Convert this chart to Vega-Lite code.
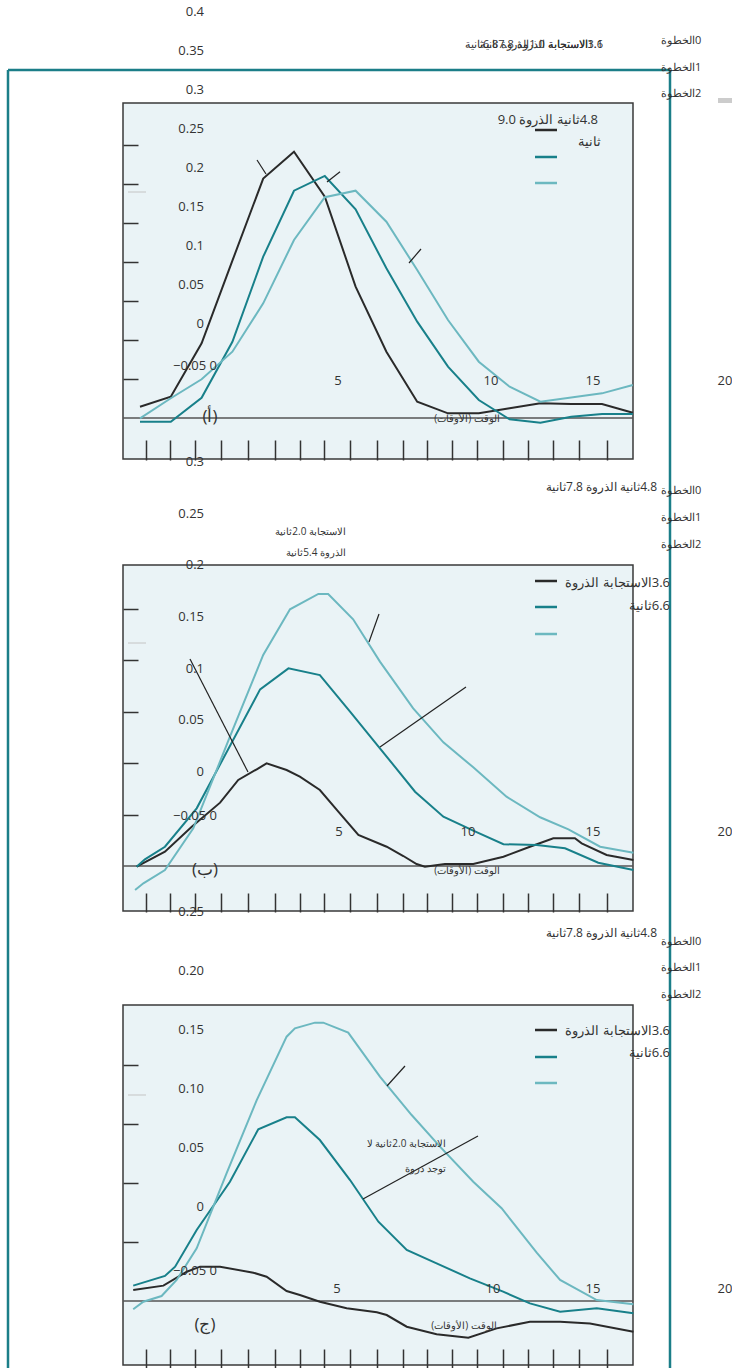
{
  "$schema": "https://vega.github.io/schema/vega-lite/v6.json",
  "padding": 0,
  "spacing": 0,
  "bounds": "flush",
  "background": "white",
  "config": {"view": {"stroke": null}, "text": {"font": "Open Sans", "color": "#333333"}, "axis": {"grid": false, "labels": false, "domain": false, "tickColor": "#333333", "tickWidth": 1.5, "zindex": 2}},
  "datasets": {
    "L1": [
      {"s":"step0","t":0,"v":0.0145},{"s":"step0","t":1,"v":0.0273},{"s":"step0","t":2,"v":0.0957},{"s":"step0","t":3,"v":0.2017},{"s":"step0","t":4,"v":0.307},{"s":"step0","t":5,"v":0.3415},{"s":"step0","t":6,"v":0.2838},{"s":"step0","t":7,"v":0.1684},{"s":"step0","t":8,"v":0.085},{"s":"step0","t":9,"v":0.0209},{"s":"step0","t":10,"v":0.006},{"s":"step0","t":11,"v":0.006},{"s":"step0","t":12,"v":0.0124},{"s":"step0","t":13,"v":0.0188},{"s":"step0","t":14,"v":0.018},{"s":"step0","t":15,"v":0.018},{"s":"step0","t":16,"v":0.0068},
      {"s":"step1","t":0,"v":-0.0047},{"s":"step1","t":1,"v":-0.0047},{"s":"step1","t":2,"v":0.026},{"s":"step1","t":3,"v":0.0978},{"s":"step1","t":4,"v":0.2068},{"s":"step1","t":5,"v":0.2914},{"s":"step1","t":6,"v":0.3103},{"s":"step1","t":7,"v":0.2676},{"s":"step1","t":8,"v":0.1919},{"s":"step1","t":9,"v":0.1235},{"s":"step1","t":10,"v":0.0658},{"s":"step1","t":11,"v":0.0231},{"s":"step1","t":12,"v":-0.0017},{"s":"step1","t":13,"v":-0.006},{"s":"step1","t":14,"v":0.0017},{"s":"step1","t":15,"v":0.0051},{"s":"step1","t":16,"v":0.0051},
      {"s":"step2","t":0,"v":-0.0004},{"s":"step2","t":1,"v":0.0253},{"s":"step2","t":2,"v":0.0496},{"s":"step2","t":3,"v":0.085},{"s":"step2","t":4,"v":0.147},{"s":"step2","t":5,"v":0.2282},{"s":"step2","t":6,"v":0.283},{"s":"step2","t":7,"v":0.2914},{"s":"step2","t":8,"v":0.2517},{"s":"step2","t":9,"v":0.1897},{"s":"step2","t":10,"v":0.1256},{"s":"step2","t":11,"v":0.0722},{"s":"step2","t":12,"v":0.0401},{"s":"step2","t":13,"v":0.0209},{"s":"step2","t":14,"v":0.0263},{"s":"step2","t":15,"v":0.0316},{"s":"step2","t":16,"v":0.0423}
    ],
    "L2": [
      {"s":"step0","t":-0.11,"v":-0.0007},{"s":"step0","t":0.81,"v":0.0139},{"s":"step0","t":1.68,"v":0.0382},{"s":"step0","t":2.6,"v":0.0615},{"s":"step0","t":3.19,"v":0.0835},{"s":"step0","t":3.79,"v":0.0939},{"s":"step0","t":4.11,"v":0.0997},{"s":"step0","t":4.76,"v":0.0932},{"s":"step0","t":5.19,"v":0.0867},{"s":"step0","t":5.84,"v":0.0738},{"s":"step0","t":6.39,"v":0.0544},{"s":"step0","t":7.09,"v":0.0301},{"s":"step0","t":8.01,"v":0.0187},{"s":"step0","t":8.55,"v":0.0097},{"s":"step0","t":8.98,"v":0.0019},{"s":"step0","t":9.25,"v":-0.0007},{"s":"step0","t":9.9,"v":0.0019},{"s":"step0","t":10.82,"v":0.0019},{"s":"step0","t":11.8,"v":0.009},{"s":"step0","t":12.66,"v":0.0187},{"s":"step0","t":13.42,"v":0.0269},{"s":"step0","t":14.12,"v":0.0269},{"s":"step0","t":14.34,"v":0.022},{"s":"step0","t":15.15,"v":0.0107},{"s":"step0","t":16.02,"v":0.0058},
      {"s":"step1","t":-0.11,"v":-0.0007},{"s":"step1","t":0.16,"v":0.0065},{"s":"step1","t":0.81,"v":0.0187},{"s":"step1","t":1.84,"v":0.056},{"s":"step1","t":3.9,"v":0.1715},{"s":"step1","t":4.82,"v":0.1919},{"s":"step1","t":5.84,"v":0.1854},{"s":"step1","t":6.82,"v":0.1498},{"s":"step1","t":7.79,"v":0.1143},{"s":"step1","t":8.93,"v":0.0721},{"s":"step1","t":9.85,"v":0.0479},{"s":"step1","t":10.82,"v":0.0343},{"s":"step1","t":11.8,"v":0.0211},{"s":"step1","t":12.88,"v":0.0204},{"s":"step1","t":13.8,"v":0.0172},{"s":"step1","t":14.88,"v":0.0032},{"s":"step1","t":16.02,"v":-0.0039},
      {"s":"step2","t":-0.16,"v":-0.0233},{"s":"step2","t":0.11,"v":-0.0168},{"s":"step2","t":0.81,"v":-0.0039},{"s":"step2","t":1.73,"v":0.0366},{"s":"step2","t":2.92,"v":0.1255},{"s":"step2","t":4.0,"v":0.2049},{"s":"step2","t":4.87,"v":0.2492},{"s":"step2","t":5.79,"v":0.2641},{"s":"step2","t":6.11,"v":0.2641},{"s":"step2","t":6.92,"v":0.2395},{"s":"step2","t":7.79,"v":0.1984},{"s":"step2","t":8.87,"v":0.1531},{"s":"step2","t":9.85,"v":0.1201},{"s":"step2","t":10.82,"v":0.0958},{"s":"step2","t":11.9,"v":0.0673},{"s":"step2","t":12.99,"v":0.0473},{"s":"step2","t":13.91,"v":0.0356},{"s":"step2","t":14.94,"v":0.0187},{"s":"step2","t":16.02,"v":0.0129}
    ],
    "L3": [
      {"s":"step0","t":-0.22,"v":0.0093},{"s":"step0","t":0.76,"v":0.013},{"s":"step0","t":1.52,"v":0.0248},{"s":"step0","t":1.95,"v":0.0291},{"s":"step0","t":2.6,"v":0.0291},{"s":"step0","t":3.68,"v":0.024},{"s":"step0","t":4.11,"v":0.0206},{"s":"step0","t":4.76,"v":0.0085},{"s":"step0","t":5.19,"v":0.0051},{"s":"step0","t":5.84,"v":-0.0006},{"s":"step0","t":6.71,"v":-0.0062},{"s":"step0","t":7.69,"v":-0.0096},{"s":"step0","t":8.01,"v":-0.0119},{"s":"step0","t":8.66,"v":-0.0218},{"s":"step0","t":9.63,"v":-0.0282},{"s":"step0","t":10.66,"v":-0.0311},{"s":"step0","t":11.58,"v":-0.0232},{"s":"step0","t":12.66,"v":-0.0176},{"s":"step0","t":13.64,"v":-0.0176},{"s":"step0","t":14.61,"v":-0.019},{"s":"step0","t":16.02,"v":-0.026},
      {"s":"step1","t":-0.22,"v":0.013},{"s":"step1","t":0.81,"v":0.0212},{"s":"step1","t":1.14,"v":0.0291},{"s":"step1","t":1.84,"v":0.0602},{"s":"step1","t":2.92,"v":0.1011},{"s":"step1","t":3.84,"v":0.1455},{"s":"step1","t":4.76,"v":0.1557},{"s":"step1","t":5.03,"v":0.1557},{"s":"step1","t":5.84,"v":0.1364},{"s":"step1","t":6.82,"v":0.1025},{"s":"step1","t":7.74,"v":0.0672},{"s":"step1","t":8.66,"v":0.0432},{"s":"step1","t":9.63,"v":0.0319},{"s":"step1","t":10.71,"v":0.0192},{"s":"step1","t":11.79,"v":0.0079},{"s":"step1","t":12.66,"v":-0.002},{"s":"step1","t":13.64,"v":-0.0091},{"s":"step1","t":14.83,"v":-0.0062},{"s":"step1","t":16.02,"v":-0.0104},
      {"s":"step2","t":-0.22,"v":-0.007},{"s":"step2","t":0.11,"v":-0.0006},{"s":"step2","t":0.7,"v":0.0042},{"s":"step2","t":1.19,"v":0.0178},{"s":"step2","t":1.84,"v":0.0447},{"s":"step2","t":2.81,"v":0.1082},{"s":"step2","t":3.79,"v":0.1703},{"s":"step2","t":4.76,"v":0.224},{"s":"step2","t":5.03,"v":0.2311},{"s":"step2","t":5.68,"v":0.2359},{"s":"step2","t":5.95,"v":0.2359},{"s":"step2","t":6.76,"v":0.2274},{"s":"step2","t":7.79,"v":0.1901},{"s":"step2","t":8.82,"v":0.1576},{"s":"step2","t":9.74,"v":0.1308},{"s":"step2","t":10.82,"v":0.1011},{"s":"step2","t":11.74,"v":0.0786},{"s":"step2","t":12.88,"v":0.0409},{"s":"step2","t":13.64,"v":0.0178},{"s":"step2","t":14.83,"v":0.0008},{"s":"step2","t":16.02,"v":-0.0028}
    ],
    "B1": [{"t":-0.5519,"t2":16.0065,"v":0.40385,"v2":-0.05256}],
    "B2": [{"t":-0.5519,"t2":16.0065,"v":0.29223,"v2":-0.04369}],
    "B3": [{"t":-0.5519,"t2":16.0065,"v":0.25085,"v2":-0.05424}],
    "S1": [
      {"kind":"frame","t":-4.2857,"v":0.44615,"t2":17.2078,"v2":0.44615},
      {"kind":"frame","t":-4.2857,"v":0.44615,"t2":-4.2857,"v2":-0.053846},
      {"kind":"frame","t":17.2078,"v":0.44615,"t2":17.2078,"v2":-0.053846},
      {"kind":"leader","t":3.799,"v":0.33077,"t2":4.091,"v2":0.31282},
      {"kind":"leader","t":6.071,"v":0.30256,"t2":6.494,"v2":0.31577},
      {"kind":"leader","t":8.734,"v":0.19872,"t2":9.123,"v2":0.21667},
      {"kind":"zero","t":-0.5519,"v":0,"t2":16.0065,"v2":0},
      {"kind":"faint","t":-0.39,"v":0.28974,"t2":0.195,"v2":0.28974},
      {"kind":"bar","t":18.766,"v":0.40705,"t2":19.221,"v2":0.40705},
      {"kind":"step0","t":12.825,"v":0.36923,"t2":13.539,"v2":0.36923},
      {"kind":"step1","t":12.825,"v":0.33462,"t2":13.539,"v2":0.33462},
      {"kind":"step2","t":12.825,"v":0.30128,"t2":13.539,"v2":0.30128}
    ],
    "S2": [
      {"kind":"frame","t":-4.2857,"v":0.394175,"t2":-4.2857,"v2":-0.04466},
      {"kind":"frame","t":17.2078,"v":0.394175,"t2":17.2078,"v2":-0.04466},
      {"kind":"leader","t":1.623,"v":0.20097,"t2":3.506,"v2":0.09126},
      {"kind":"leader","t":7.435,"v":0.21748,"t2":7.76,"v2":0.24466},
      {"kind":"leader","t":7.792,"v":0.11553,"t2":10.584,"v2":0.17379},
      {"kind":"zero","t":-0.5519,"v":0,"t2":16.0065,"v2":0},
      {"kind":"faint","t":-0.39,"v":0.2165,"t2":0.195,"v2":0.2165},
      {"kind":"step0","t":12.825,"v":0.2767,"t2":13.539,"v2":0.2767},
      {"kind":"step1","t":12.825,"v":0.25146,"t2":13.539,"v2":0.25146},
      {"kind":"step2","t":12.825,"v":0.22524,"t2":13.539,"v2":0.22524}
    ],
    "S3": [
      {"kind":"frame","t":-4.2857,"v":0.329661,"t2":-4.2857,"v2":-0.05678},
      {"kind":"frame","t":17.2078,"v":0.329661,"t2":17.2078,"v2":-0.05678},
      {"kind":"leader","t":8.019,"v":0.1822,"t2":8.604,"v2":0.19915},
      {"kind":"leader","t":7.24,"v":0.08644,"t2":10.974,"v2":0.13983},
      {"kind":"zero","t":-0.5519,"v":0,"t2":16.0065,"v2":0},
      {"kind":"faint","t":-0.39,"v":0.17458,"t2":0.195,"v2":0.17458},
      {"kind":"step0","t":12.825,"v":0.22966,"t2":13.539,"v2":0.22966},
      {"kind":"step1","t":12.825,"v":0.20678,"t2":13.539,"v2":0.20678},
      {"kind":"step2","t":12.825,"v":0.18475,"t2":13.539,"v2":0.18475}
    ],
    "Y1": [{"lab":0.4,"txt":"0.4"},{"lab":0.35,"txt":"0.35"},{"lab":0.3,"txt":"0.3"},{"lab":0.25,"txt":"0.25"},{"lab":0.2,"txt":"0.2"},{"lab":0.15,"txt":"0.15"},{"lab":0.1,"txt":"0.1"},{"lab":0.05,"txt":"0.05"},{"lab":0,"txt":"0"}],
    "Y2": [{"lab":0.3,"txt":"0.3"},{"lab":0.25,"txt":"0.25"},{"lab":0.2,"txt":"0.2"},{"lab":0.15,"txt":"0.15"},{"lab":0.1,"txt":"0.1"},{"lab":0.05,"txt":"0.05"},{"lab":0,"txt":"0"}],
    "Y3": [{"lab":0.25,"txt":"0.25"},{"lab":0.2,"txt":"0.20"},{"lab":0.15,"txt":"0.15"},{"lab":0.1,"txt":"0.10"},{"lab":0.05,"txt":"0.05"},{"lab":0,"txt":"0"}],
    "A1": [
      {"role":"num","t":6.4286,"v":0.04744,"txt":"5"},
      {"role":"num","t":11.396,"v":0.04744,"txt":"10"},
      {"role":"num","t":14.708,"v":0.04744,"txt":"15"},
      {"role":"num","t":18.994,"v":0.04744,"txt":"20"},
      {"role":"numr","t":2.5,"v":0.0667,"txt":"−0.05 0"},
      {"role":"letter","t":2.2727,"v":0.0013,"txt":"(أ)"},
      {"role":"time","t":10.617,"v":-0.0013,"txt":"\u202bالوقت (الأوقات)\u202c"},
      {"role":"step","t":16.916,"v":0.48333,"txt":"\u202b0الخطوة\u202c"},
      {"role":"step","t":16.916,"v":0.44872,"txt":"\u202b1الخطوة\u202c"},
      {"role":"step","t":16.916,"v":0.41538,"txt":"\u202b2الخطوة\u202c"},
      {"role":"head","t":15.0325,"v":0.47821,"txt":"\u202b3.6الاستجابة الذروة 7.8ثانية\u202c"},
      {"role":"head","t":15.0325,"v":0.47821,"txt":"\u202b1.1الاستجابة 1.0الذروة 6.8ثانية\u202c"},
      {"role":"legend","t":14.87,"v":0.38205,"txt":"\u202b4.8ثانية الذروة  9.0\u202c"},
      {"role":"legend","t":14.968,"v":0.35385,"txt":"\u202bثانية\u202c"}
    ],
    "A2": [
      {"role":"num","t":6.461,"v":0.03301,"txt":"5"},
      {"role":"num","t":10.649,"v":0.03301,"txt":"10"},
      {"role":"num","t":14.708,"v":0.03301,"txt":"15"},
      {"role":"num","t":18.994,"v":0.03301,"txt":"20"},
      {"role":"numr","t":2.5,"v":0.04854,"txt":"−0.05 0"},
      {"role":"letter","t":2.11,"v":-0.0039,"txt":"(ب)"},
      {"role":"time","t":10.617,"v":-0.0049,"txt":"\u202bالوقت (الأوقات)\u202c"},
      {"role":"step","t":16.916,"v":0.36408,"txt":"\u202b0الخطوة\u202c"},
      {"role":"step","t":16.916,"v":0.33786,"txt":"\u202b1الخطوة\u202c"},
      {"role":"step","t":16.916,"v":0.31165,"txt":"\u202b2الخطوة\u202c"},
      {"role":"head","t":16.786,"v":0.36796,"txt":"\u202b4.8ثانية الذروة  7.8ثانية\u202c"},
      {"role":"note","t":6.688,"v":0.32427,"txt":"\u202bالاستجابة  2.0ثانية\u202c"},
      {"role":"note","t":6.688,"v":0.30388,"txt":"\u202bالذروة  5.4ثانية\u202c"},
      {"role":"legend","t":17.208,"v":0.27476,"txt":"\u202b3.6الاستجابة الذروة\u202c"},
      {"role":"legend","t":17.208,"v":0.25243,"txt":"\u202b6.6ثانية\u202c"}
    ],
    "A3": [
      {"role":"num","t":6.396,"v":0.01017,"txt":"5"},
      {"role":"num","t":11.461,"v":0.01017,"txt":"10"},
      {"role":"num","t":14.708,"v":0.01017,"txt":"15"},
      {"role":"num","t":18.994,"v":0.01017,"txt":"20"},
      {"role":"numr","t":2.5,"v":0.02542,"txt":"−0.05 0"},
      {"role":"letter","t":2.11,"v":-0.0203,"txt":"(ج)"},
      {"role":"time","t":10.519,"v":-0.0212,"txt":"\u202bالوقت (الأوقات)\u202c"},
      {"role":"step","t":16.916,"v":0.30424,"txt":"\u202b0الخطوة\u202c"},
      {"role":"step","t":16.916,"v":0.2822,"txt":"\u202b1الخطوة\u202c"},
      {"role":"step","t":16.916,"v":0.25932,"txt":"\u202b2الخطوة\u202c"},
      {"role":"head","t":16.786,"v":0.31186,"txt":"\u202b4.8ثانية الذروة  7.8ثانية\u202c"},
      {"role":"note","t":9.935,"v":0.13305,"txt":"\u202bالاستجابة  2.0ثانية لا\u202c"},
      {"role":"note","t":9.935,"v":0.11186,"txt":"\u202bتوجد ذروة\u202c"},
      {"role":"legend","t":17.208,"v":0.22881,"txt":"\u202b3.6الاستجابة الذروة\u202c"},
      {"role":"legend","t":17.208,"v":0.21017,"txt":"\u202b6.6ثانية\u202c"}
    ]
  },
  "vconcat": [
    {
      "width": 732, "height": 460,
      "resolve": {"scale": {"y": "independent"}},
      "layer": [
        {"layer": [
          {"data": {"name": "B1"}, "mark": {"type": "rect", "fill": "#eaf3f6", "stroke": "#3a3a3a", "strokeWidth": 1.5},
           "encoding": {
             "x": {"field": "t", "type": "quantitative", "title": null, "scale": {"domain": [-4.5455, 19.2208], "nice": false, "zero": false},
                   "axis": {"values": [0.195,0.974,1.786,2.63,3.506,4.383,5.195,5.974,6.818,7.695,8.539,9.318,10.13,10.94,11.79,12.6,13.41,14.25,15.16], "labels": false, "domain": false, "ticks": true, "tickSize": -20, "grid": false, "title": null, "zindex": 2}},
             "x2": {"field": "t2"},
             "y": {"field": "v", "type": "quantitative", "title": null, "scale": {"domain": [-0.053846, 0.535897], "nice": false, "zero": false},
                   "axis": {"values": [0.05,0.1,0.15,0.2,0.25,0.3,0.35], "labels": false, "domain": false, "ticks": true, "tickSize": -15, "offset": -123, "grid": false, "title": null, "zindex": 2}},
             "y2": {"field": "v2"}}},
          {"data": {"name": "S1"}, "transform": [{"filter": "datum.kind == 'zero'"}], "mark": {"type": "rule", "color": "#555555", "strokeWidth": 1.5},
           "encoding": {"x": {"field": "t", "type": "quantitative", "title": null}, "x2": {"field": "t2"}, "y": {"field": "v", "type": "quantitative", "title": null}, "y2": {"field": "v2"}}},
          {"data": {"name": "S1"}, "transform": [{"filter": "datum.kind == 'faint'"}], "mark": {"type": "rule", "color": "#c4c4c4", "strokeWidth": 1},
           "encoding": {"x": {"field": "t", "type": "quantitative", "title": null}, "x2": {"field": "t2"}, "y": {"field": "v", "type": "quantitative", "title": null}, "y2": {"field": "v2"}}},
          {"data": {"name": "S1"}, "transform": [{"filter": "datum.kind == 'bar'"}], "mark": {"type": "rule", "color": "#cccccc", "strokeWidth": 5},
           "encoding": {"x": {"field": "t", "type": "quantitative", "title": null}, "x2": {"field": "t2"}, "y": {"field": "v", "type": "quantitative", "title": null}, "y2": {"field": "v2"}}},
          {"data": {"name": "L1"}, "mark": {"type": "line", "strokeWidth": 2},
           "encoding": {"x": {"field": "t", "type": "quantitative", "title": null}, "y": {"field": "v", "type": "quantitative", "title": null},
                        "color": {"field": "s", "type": "nominal", "scale": {"domain": ["step0","step1","step2"], "range": ["#2a2a2a","#18808a","#6cb8c0"]}, "legend": null}}},
          {"data": {"name": "S1"}, "transform": [{"filter": "datum.kind == 'leader'"}], "mark": {"type": "rule", "color": "#222222", "strokeWidth": 1.2},
           "encoding": {"x": {"field": "t", "type": "quantitative", "title": null}, "x2": {"field": "t2"}, "y": {"field": "v", "type": "quantitative", "title": null}, "y2": {"field": "v2"}}},
          {"data": {"name": "S1"}, "transform": [{"filter": {"field": "kind", "oneOf": ["step0","step1","step2"]}}], "mark": {"type": "rule", "strokeWidth": 2.5},
           "encoding": {"x": {"field": "t", "type": "quantitative", "title": null}, "x2": {"field": "t2"}, "y": {"field": "v", "type": "quantitative", "title": null}, "y2": {"field": "v2"},
                        "color": {"field": "kind", "type": "nominal", "scale": {"domain": ["step0","step1","step2"], "range": ["#2a2a2a","#18808a","#6cb8c0"]}, "legend": null}}},
          {"data": {"name": "S1"}, "transform": [{"filter": "datum.kind == 'frame'"}], "mark": {"type": "rule", "color": "#1b7e88", "strokeWidth": 2.5},
           "encoding": {"x": {"field": "t", "type": "quantitative", "title": null}, "x2": {"field": "t2"}, "y": {"field": "v", "type": "quantitative", "title": null}, "y2": {"field": "v2"}}},
          {"data": {"name": "A1"}, "transform": [{"filter": "datum.role == 'num'"}], "mark": {"type": "text", "align": "center", "baseline": "middle", "fontSize": 13},
           "encoding": {"x": {"field": "t", "type": "quantitative", "title": null}, "y": {"field": "v", "type": "quantitative", "title": null}, "text": {"field": "txt"}}},
          {"data": {"name": "A1"}, "transform": [{"filter": "datum.role == 'numr'"}], "mark": {"type": "text", "align": "right", "baseline": "middle", "fontSize": 13},
           "encoding": {"x": {"field": "t", "type": "quantitative", "title": null}, "y": {"field": "v", "type": "quantitative", "title": null}, "text": {"field": "txt"}}},
          {"data": {"name": "A1"}, "transform": [{"filter": "datum.role == 'letter'"}], "mark": {"type": "text", "align": "center", "baseline": "middle", "fontSize": 17},
           "encoding": {"x": {"field": "t", "type": "quantitative", "title": null}, "y": {"field": "v", "type": "quantitative", "title": null}, "text": {"field": "txt"}}},
          {"data": {"name": "A1"}, "transform": [{"filter": "datum.role == 'time'"}], "mark": {"type": "text", "align": "center", "baseline": "middle", "fontSize": 10},
           "encoding": {"x": {"field": "t", "type": "quantitative", "title": null}, "y": {"field": "v", "type": "quantitative", "title": null}, "text": {"field": "txt"}}},
          {"data": {"name": "A1"}, "transform": [{"filter": "datum.role == 'step'"}], "mark": {"type": "text", "align": "left", "baseline": "middle", "fontSize": 11},
           "encoding": {"x": {"field": "t", "type": "quantitative", "title": null}, "y": {"field": "v", "type": "quantitative", "title": null}, "text": {"field": "txt"}}},
          {"data": {"name": "A1"}, "transform": [{"filter": "datum.role == 'head'"}], "mark": {"type": "text", "align": "right", "baseline": "middle", "fontSize": 11},
           "encoding": {"x": {"field": "t", "type": "quantitative", "title": null}, "y": {"field": "v", "type": "quantitative", "title": null}, "text": {"field": "txt"}}},
          {"data": {"name": "A1"}, "transform": [{"filter": "datum.role == 'legend'"}], "mark": {"type": "text", "align": "right", "baseline": "middle", "fontSize": 13},
           "encoding": {"x": {"field": "t", "type": "quantitative", "title": null}, "y": {"field": "v", "type": "quantitative", "title": null}, "text": {"field": "txt"}}}
        ]},
        {"data": {"name": "Y1"}, "mark": {"type": "text", "align": "right", "baseline": "middle", "fontSize": 13},
         "encoding": {"x": {"datum": 2.078, "type": "quantitative", "title": null},
                      "y": {"field": "lab", "type": "quantitative", "scale": {"domain": [-0.174359, 0.415385], "nice": false, "zero": false}, "axis": null},
                      "text": {"field": "txt"}}}
      ]
    },
    {
      "width": 732, "height": 452,
      "resolve": {"scale": {"y": "independent"}},
      "layer": [
        {"layer": [
          {"data": {"name": "B2"}, "mark": {"type": "rect", "fill": "#eaf3f6", "stroke": "#3a3a3a", "strokeWidth": 1.5},
           "encoding": {
             "x": {"field": "t", "type": "quantitative", "title": null, "scale": {"domain": [-4.5455, 19.2208], "nice": false, "zero": false},
                   "axis": {"values": [0.195,0.974,1.786,2.63,3.506,4.383,5.195,5.974,6.818,7.695,8.539,9.318,10.13,10.94,11.79,12.6,13.41,14.25,15.16], "labels": false, "domain": false, "ticks": true, "tickSize": -19, "grid": false, "title": null, "zindex": 2}},
             "x2": {"field": "t2"},
             "y": {"field": "v", "type": "quantitative", "title": null, "scale": {"domain": [-0.04466, 0.394175], "nice": false, "zero": false},
                   "axis": {"values": [0.05,0.1,0.15,0.2,0.25], "labels": false, "domain": false, "ticks": true, "tickSize": -15, "offset": -123, "grid": false, "title": null, "zindex": 2}},
             "y2": {"field": "v2"}}},
          {"data": {"name": "S2"}, "transform": [{"filter": "datum.kind == 'zero'"}], "mark": {"type": "rule", "color": "#555555", "strokeWidth": 1.5},
           "encoding": {"x": {"field": "t", "type": "quantitative", "title": null}, "x2": {"field": "t2"}, "y": {"field": "v", "type": "quantitative", "title": null}, "y2": {"field": "v2"}}},
          {"data": {"name": "S2"}, "transform": [{"filter": "datum.kind == 'faint'"}], "mark": {"type": "rule", "color": "#c4c4c4", "strokeWidth": 1},
           "encoding": {"x": {"field": "t", "type": "quantitative", "title": null}, "x2": {"field": "t2"}, "y": {"field": "v", "type": "quantitative", "title": null}, "y2": {"field": "v2"}}},
          {"data": {"name": "L2"}, "mark": {"type": "line", "strokeWidth": 2},
           "encoding": {"x": {"field": "t", "type": "quantitative", "title": null}, "y": {"field": "v", "type": "quantitative", "title": null},
                        "color": {"field": "s", "type": "nominal", "scale": {"domain": ["step0","step1","step2"], "range": ["#2a2a2a","#18808a","#6cb8c0"]}, "legend": null}}},
          {"data": {"name": "S2"}, "transform": [{"filter": "datum.kind == 'leader'"}], "mark": {"type": "rule", "color": "#222222", "strokeWidth": 1.2},
           "encoding": {"x": {"field": "t", "type": "quantitative", "title": null}, "x2": {"field": "t2"}, "y": {"field": "v", "type": "quantitative", "title": null}, "y2": {"field": "v2"}}},
          {"data": {"name": "S2"}, "transform": [{"filter": {"field": "kind", "oneOf": ["step0","step1","step2"]}}], "mark": {"type": "rule", "strokeWidth": 2.5},
           "encoding": {"x": {"field": "t", "type": "quantitative", "title": null}, "x2": {"field": "t2"}, "y": {"field": "v", "type": "quantitative", "title": null}, "y2": {"field": "v2"},
                        "color": {"field": "kind", "type": "nominal", "scale": {"domain": ["step0","step1","step2"], "range": ["#2a2a2a","#18808a","#6cb8c0"]}, "legend": null}}},
          {"data": {"name": "S2"}, "transform": [{"filter": "datum.kind == 'frame'"}], "mark": {"type": "rule", "color": "#1b7e88", "strokeWidth": 2.5},
           "encoding": {"x": {"field": "t", "type": "quantitative", "title": null}, "x2": {"field": "t2"}, "y": {"field": "v", "type": "quantitative", "title": null}, "y2": {"field": "v2"}}},
          {"data": {"name": "A2"}, "transform": [{"filter": "datum.role == 'num'"}], "mark": {"type": "text", "align": "center", "baseline": "middle", "fontSize": 13},
           "encoding": {"x": {"field": "t", "type": "quantitative", "title": null}, "y": {"field": "v", "type": "quantitative", "title": null}, "text": {"field": "txt"}}},
          {"data": {"name": "A2"}, "transform": [{"filter": "datum.role == 'numr'"}], "mark": {"type": "text", "align": "right", "baseline": "middle", "fontSize": 13},
           "encoding": {"x": {"field": "t", "type": "quantitative", "title": null}, "y": {"field": "v", "type": "quantitative", "title": null}, "text": {"field": "txt"}}},
          {"data": {"name": "A2"}, "transform": [{"filter": "datum.role == 'letter'"}], "mark": {"type": "text", "align": "center", "baseline": "middle", "fontSize": 17},
           "encoding": {"x": {"field": "t", "type": "quantitative", "title": null}, "y": {"field": "v", "type": "quantitative", "title": null}, "text": {"field": "txt"}}},
          {"data": {"name": "A2"}, "transform": [{"filter": "datum.role == 'time'"}], "mark": {"type": "text", "align": "center", "baseline": "middle", "fontSize": 10},
           "encoding": {"x": {"field": "t", "type": "quantitative", "title": null}, "y": {"field": "v", "type": "quantitative", "title": null}, "text": {"field": "txt"}}},
          {"data": {"name": "A2"}, "transform": [{"filter": "datum.role == 'step'"}], "mark": {"type": "text", "align": "left", "baseline": "middle", "fontSize": 11},
           "encoding": {"x": {"field": "t", "type": "quantitative", "title": null}, "y": {"field": "v", "type": "quantitative", "title": null}, "text": {"field": "txt"}}},
          {"data": {"name": "A2"}, "transform": [{"filter": "datum.role == 'head'"}], "mark": {"type": "text", "align": "right", "baseline": "middle", "fontSize": 12},
           "encoding": {"x": {"field": "t", "type": "quantitative", "title": null}, "y": {"field": "v", "type": "quantitative", "title": null}, "text": {"field": "txt"}}},
          {"data": {"name": "A2"}, "transform": [{"filter": "datum.role == 'note'"}], "mark": {"type": "text", "align": "right", "baseline": "middle", "fontSize": 10},
           "encoding": {"x": {"field": "t", "type": "quantitative", "title": null}, "y": {"field": "v", "type": "quantitative", "title": null}, "text": {"field": "txt"}}},
          {"data": {"name": "A2"}, "transform": [{"filter": "datum.role == 'legend'"}], "mark": {"type": "text", "align": "right", "baseline": "middle", "fontSize": 13},
           "encoding": {"x": {"field": "t", "type": "quantitative", "title": null}, "y": {"field": "v", "type": "quantitative", "title": null}, "text": {"field": "txt"}}}
        ]},
        {"data": {"name": "Y2"}, "mark": {"type": "text", "align": "right", "baseline": "middle", "fontSize": 13},
         "encoding": {"x": {"datum": 2.078, "type": "quantitative", "title": null},
                      "y": {"field": "lab", "type": "quantitative", "scale": {"domain": [-0.135484, 0.301935], "nice": false, "zero": false}, "axis": null},
                      "text": {"field": "txt"}}}
      ]
    },
    {
      "width": 732, "height": 456,
      "resolve": {"scale": {"y": "independent"}},
      "layer": [
        {"layer": [
          {"data": {"name": "B3"}, "mark": {"type": "rect", "fill": "#eaf3f6", "stroke": "#3a3a3a", "strokeWidth": 1.5},
           "encoding": {
             "x": {"field": "t", "type": "quantitative", "title": null, "scale": {"domain": [-4.5455, 19.2208], "nice": false, "zero": false},
                   "axis": {"values": [0.195,0.974,1.786,2.63,3.506,4.383,5.195,5.974,6.818,7.695,8.539,9.318,10.13,10.94,11.79,12.6,13.41,14.25,15.16], "labels": false, "domain": false, "ticks": true, "tickSize": -19, "grid": false, "title": null, "zindex": 2}},
             "x2": {"field": "t2"},
             "y": {"field": "v", "type": "quantitative", "title": null, "scale": {"domain": [-0.05678, 0.329661], "nice": false, "zero": false},
                   "axis": {"values": [0.05,0.1,0.15,0.2], "labels": false, "domain": false, "ticks": true, "tickSize": -15, "offset": -123, "grid": false, "title": null, "zindex": 2}},
             "y2": {"field": "v2"}}},
          {"data": {"name": "S3"}, "transform": [{"filter": "datum.kind == 'zero'"}], "mark": {"type": "rule", "color": "#555555", "strokeWidth": 1.5},
           "encoding": {"x": {"field": "t", "type": "quantitative", "title": null}, "x2": {"field": "t2"}, "y": {"field": "v", "type": "quantitative", "title": null}, "y2": {"field": "v2"}}},
          {"data": {"name": "S3"}, "transform": [{"filter": "datum.kind == 'faint'"}], "mark": {"type": "rule", "color": "#c4c4c4", "strokeWidth": 1},
           "encoding": {"x": {"field": "t", "type": "quantitative", "title": null}, "x2": {"field": "t2"}, "y": {"field": "v", "type": "quantitative", "title": null}, "y2": {"field": "v2"}}},
          {"data": {"name": "L3"}, "mark": {"type": "line", "strokeWidth": 2},
           "encoding": {"x": {"field": "t", "type": "quantitative", "title": null}, "y": {"field": "v", "type": "quantitative", "title": null},
                        "color": {"field": "s", "type": "nominal", "scale": {"domain": ["step0","step1","step2"], "range": ["#2a2a2a","#18808a","#6cb8c0"]}, "legend": null}}},
          {"data": {"name": "S3"}, "transform": [{"filter": "datum.kind == 'leader'"}], "mark": {"type": "rule", "color": "#222222", "strokeWidth": 1.2},
           "encoding": {"x": {"field": "t", "type": "quantitative", "title": null}, "x2": {"field": "t2"}, "y": {"field": "v", "type": "quantitative", "title": null}, "y2": {"field": "v2"}}},
          {"data": {"name": "S3"}, "transform": [{"filter": {"field": "kind", "oneOf": ["step0","step1","step2"]}}], "mark": {"type": "rule", "strokeWidth": 2.5},
           "encoding": {"x": {"field": "t", "type": "quantitative", "title": null}, "x2": {"field": "t2"}, "y": {"field": "v", "type": "quantitative", "title": null}, "y2": {"field": "v2"},
                        "color": {"field": "kind", "type": "nominal", "scale": {"domain": ["step0","step1","step2"], "range": ["#2a2a2a","#18808a","#6cb8c0"]}, "legend": null}}},
          {"data": {"name": "S3"}, "transform": [{"filter": "datum.kind == 'frame'"}], "mark": {"type": "rule", "color": "#1b7e88", "strokeWidth": 2.5},
           "encoding": {"x": {"field": "t", "type": "quantitative", "title": null}, "x2": {"field": "t2"}, "y": {"field": "v", "type": "quantitative", "title": null}, "y2": {"field": "v2"}}},
          {"data": {"name": "A3"}, "transform": [{"filter": "datum.role == 'num'"}], "mark": {"type": "text", "align": "center", "baseline": "middle", "fontSize": 13},
           "encoding": {"x": {"field": "t", "type": "quantitative", "title": null}, "y": {"field": "v", "type": "quantitative", "title": null}, "text": {"field": "txt"}}},
          {"data": {"name": "A3"}, "transform": [{"filter": "datum.role == 'numr'"}], "mark": {"type": "text", "align": "right", "baseline": "middle", "fontSize": 13},
           "encoding": {"x": {"field": "t", "type": "quantitative", "title": null}, "y": {"field": "v", "type": "quantitative", "title": null}, "text": {"field": "txt"}}},
          {"data": {"name": "A3"}, "transform": [{"filter": "datum.role == 'letter'"}], "mark": {"type": "text", "align": "center", "baseline": "middle", "fontSize": 17},
           "encoding": {"x": {"field": "t", "type": "quantitative", "title": null}, "y": {"field": "v", "type": "quantitative", "title": null}, "text": {"field": "txt"}}},
          {"data": {"name": "A3"}, "transform": [{"filter": "datum.role == 'time'"}], "mark": {"type": "text", "align": "center", "baseline": "middle", "fontSize": 10},
           "encoding": {"x": {"field": "t", "type": "quantitative", "title": null}, "y": {"field": "v", "type": "quantitative", "title": null}, "text": {"field": "txt"}}},
          {"data": {"name": "A3"}, "transform": [{"filter": "datum.role == 'step'"}], "mark": {"type": "text", "align": "left", "baseline": "middle", "fontSize": 11},
           "encoding": {"x": {"field": "t", "type": "quantitative", "title": null}, "y": {"field": "v", "type": "quantitative", "title": null}, "text": {"field": "txt"}}},
          {"data": {"name": "A3"}, "transform": [{"filter": "datum.role == 'head'"}], "mark": {"type": "text", "align": "right", "baseline": "middle", "fontSize": 12},
           "encoding": {"x": {"field": "t", "type": "quantitative", "title": null}, "y": {"field": "v", "type": "quantitative", "title": null}, "text": {"field": "txt"}}},
          {"data": {"name": "A3"}, "transform": [{"filter": "datum.role == 'note'"}], "mark": {"type": "text", "align": "right", "baseline": "middle", "fontSize": 10},
           "encoding": {"x": {"field": "t", "type": "quantitative", "title": null}, "y": {"field": "v", "type": "quantitative", "title": null}, "text": {"field": "txt"}}},
          {"data": {"name": "A3"}, "transform": [{"filter": "datum.role == 'legend'"}], "mark": {"type": "text", "align": "right", "baseline": "middle", "fontSize": 13},
           "encoding": {"x": {"field": "t", "type": "quantitative", "title": null}, "y": {"field": "v", "type": "quantitative", "title": null}, "text": {"field": "txt"}}}
        ]},
        {"data": {"name": "Y3"}, "mark": {"type": "text", "align": "right", "baseline": "middle", "fontSize": 13},
         "encoding": {"x": {"datum": 2.078, "type": "quantitative", "title": null},
                      "y": {"field": "lab", "type": "quantitative", "scale": {"domain": [-0.136441, 0.25], "nice": false, "zero": false}, "axis": null},
                      "text": {"field": "txt"}}}
      ]
    }
  ]
}
